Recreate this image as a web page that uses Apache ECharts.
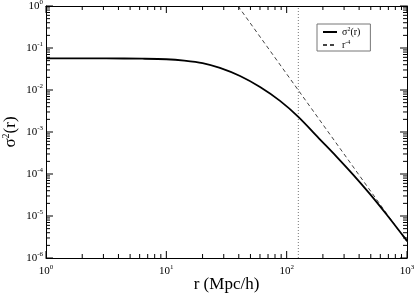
<!DOCTYPE html>
<html>
<head>
<meta charset="utf-8">
<script src="https://cdn.jsdelivr.net/npm/echarts@6/dist/echarts.min.js"></script>
<style>html,body{margin:0;padding:0;background:#fff;}#c{width:415px;height:295px;}</style>
</head>
<body>
<div id="c"></div>
<script>
// r values (Mpc/h) and sigma^2(r)
var rValues = [1, 3.16, 6.31, 10, 14.1, 20, 27.9, 41, 60.1, 88.1, 125, 189.7, 260.6, 358, 493, 679, 933, 1000];
var sigma2Values = [0.0569, 0.0566, 0.0556, 0.054, 0.0501, 0.0437, 0.0335, 0.0215, 0.01175, 0.0055, 0.00229, 0.000661, 0.000257, 0.0000955, 0.0000331, 0.0000107, 0.00000331, 0.00000257];
// r^-4 reference line (normalised) endpoints
var powR = [39.4, 1000];
var powValues = [1, 0.00000241];
// vertical dotted marker
var markerR = 125;
// axis ranges / ticks
var xMin = 1, xMax = 1000;
var yMin = 1e-6, yMax = 1;
var xMajorTicks = [1, 10, 100, 1000];
var yMajorTicks = [1e-6, 1e-5, 1e-4, 1e-3, 1e-2, 1e-1, 1];
var minorMultipliers = [2, 3, 4, 5, 6, 7, 8, 9];
var xDecades = [1, 10, 100];
var yDecades = [1e-6, 1e-5, 1e-4, 1e-3, 1e-2, 1e-1];

var sigData = rValues.map(function (r, i) { return [r, sigma2Values[i]]; });
var powData = powR.map(function (r, i) { return [r, powValues[i]]; });
var xMinorTicks = [], yMinorTicks = [];
xDecades.forEach(function (d) { minorMultipliers.forEach(function (m) { xMinorTicks.push(d * m); }); });
yDecades.forEach(function (d) { minorMultipliers.forEach(function (m) { yMinorTicks.push(d * m); }); });

function expLabel(v) {
  var e = Math.round(Math.log10(v));
  return '{b|10}{s|' + e + '}';
}
var FONT = 'Liberation Serif';
var labelRich = {
  b: { fontSize: 11, fontFamily: FONT, color: '#000' },
  s: { fontSize: 7, fontFamily: FONT, color: '#000', padding: [0, 0, 7, 0] }
};

// tick series: scatter of thin rects placed through the axes' scales
function tickSeries(values, side, len) {
  var data, size, offset;
  if (side === 'bottom') { data = values.map(function (v) { return [v, yMin]; }); size = [1, len]; offset = [0, -len / 2]; }
  else if (side === 'top') { data = values.map(function (v) { return [v, yMax]; }); size = [1, len]; offset = [0, len / 2]; }
  else if (side === 'left') { data = values.map(function (v) { return [xMin, v]; }); size = [len, 1]; offset = [len / 2, 0]; }
  else { data = values.map(function (v) { return [xMax, v]; }); size = [len, 1]; offset = [-len / 2, 0]; }
  return {
    name: 'tick-' + side + len, type: 'scatter', data: data, symbol: 'rect',
    symbolSize: size, symbolOffset: offset, clip: false, silent: true, z: 6,
    itemStyle: { color: '#000', opacity: 1 }, emphasis: { disabled: true }
  };
}

var chart = echarts.init(document.getElementById('c'), null, { renderer: 'canvas' });
var axisLine = { show: true, onZero: false, lineStyle: { color: '#000', width: 1 } };

var series = [{
  name: 'sig', type: 'line', data: sigData, smooth: 0.3, symbol: 'none',
  lineStyle: { color: '#000', width: 1.8 }, itemStyle: { color: '#000' }, z: 5
}, {
  name: 'pow', type: 'line', data: powData, symbol: 'none',
  lineStyle: { color: '#444', width: 1, type: [4, 3] }, itemStyle: { color: '#444' }, z: 4
}, {
  name: 'marker', type: 'line', data: [[markerR, yMin], [markerR, yMax]], symbol: 'none',
  lineStyle: { color: '#777', width: 1, type: [1, 2] }, z: 3
}];
['bottom', 'top'].forEach(function (s) {
  series.push(tickSeries(xMajorTicks, s, 7));
  series.push(tickSeries(xMinorTicks, s, 4));
});
['left', 'right'].forEach(function (s) {
  series.push(tickSeries(yMajorTicks, s, 7));
  series.push(tickSeries(yMinorTicks, s, 4));
});

chart.setOption({
  animation: false,
  backgroundColor: '#fff',
  grid: { left: 46, right: 8, top: 6, bottom: 37, containLabel: false, outerBoundsMode: 'none' },
  legend: {
    data: ['sig', 'pow'],
    orient: 'vertical',
    left: 317, top: 24,
    padding: [2, 10, 1, 5],
    itemWidth: 14, itemHeight: 8, itemGap: 2,
    borderColor: '#777', borderWidth: 1,
    backgroundColor: '#fff',
    itemStyle: { opacity: 0 },
    formatter: function (n) { return n === 'sig' ? '{b|σ}{s|2}{b|(r)}' : '{b|r}{s|-4}'; },
    textStyle: {
      fontFamily: FONT, color: '#000',
      rich: {
        b: { fontSize: 10, fontFamily: FONT, color: '#000' },
        s: { fontSize: 6, fontFamily: FONT, color: '#000', padding: [0, 0, 6, 0] }
      }
    }
  },
  xAxis: [{
    type: 'log', logBase: 10, min: xMin, max: xMax, interval: 1,
    position: 'bottom',
    axisLine: axisLine, axisTick: { show: false }, splitLine: { show: false },
    axisLabel: { formatter: expLabel, rich: labelRich, margin: 6 },
    name: 'r (Mpc/h)', nameLocation: 'middle', nameGap: 18, nameMoveOverlap: false,
    nameTextStyle: { fontFamily: FONT, fontSize: 17, color: '#000' }
  }, {
    type: 'log', logBase: 10, min: xMin, max: xMax, interval: 1,
    position: 'top',
    axisLine: axisLine, axisTick: { show: false }, splitLine: { show: false },
    axisLabel: { show: false }
  }],
  yAxis: [{
    type: 'log', logBase: 10, min: yMin, max: yMax, interval: 1,
    position: 'left',
    axisLine: axisLine, axisTick: { show: false }, splitLine: { show: false },
    axisLabel: { formatter: expLabel, rich: labelRich, margin: 3 },
    name: '{b|σ}{s|2}{b|(r)}', nameLocation: 'middle', nameGap: 26, nameRotate: 90, nameMoveOverlap: false,
    nameTextStyle: {
      fontFamily: FONT, color: '#000',
      rich: {
        b: { fontSize: 17, fontFamily: FONT, color: '#000' },
        s: { fontSize: 10, fontFamily: FONT, color: '#000', padding: [0, 0, 9, 0] }
      }
    }
  }, {
    type: 'log', logBase: 10, min: yMin, max: yMax, interval: 1,
    position: 'right',
    axisLine: axisLine, axisTick: { show: false }, splitLine: { show: false },
    axisLabel: { show: false }
  }],
  series: series
});
</script>
</body>
</html>
